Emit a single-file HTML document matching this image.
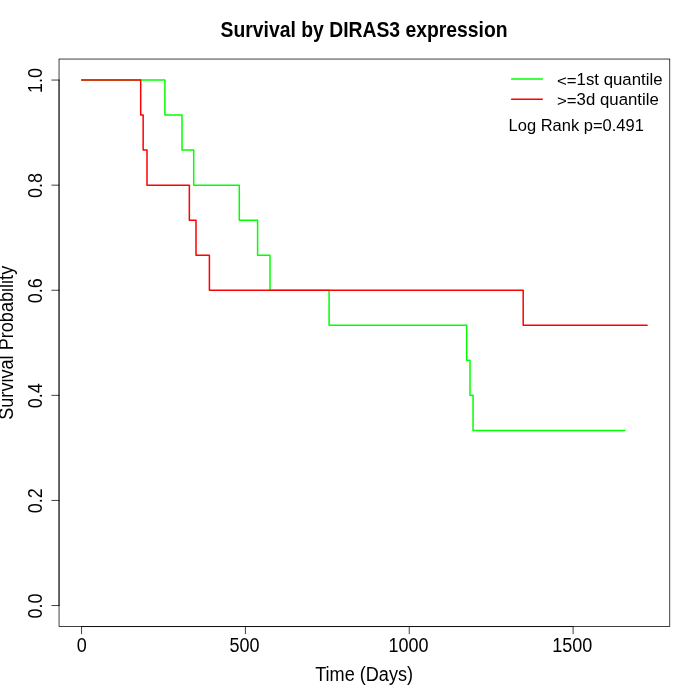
<!DOCTYPE html>
<html><head><meta charset="utf-8"><title>Survival by DIRAS3 expression</title>
<style>
html,body{margin:0;padding:0;background:#fff;}
body{width:700px;height:700px;overflow:hidden;}
svg{display:block;will-change:transform;}
svg text{font-family:"Liberation Sans",sans-serif;fill:#000;}
</style></head><body>
<svg width="700" height="700" viewBox="0 0 700 700">
<rect x="0" y="0" width="700" height="700" fill="#fff"/>
<rect x="59.04" y="59.04" width="610.72" height="567.52" fill="none" stroke="#000" stroke-width="0.75"/>
<path d="M81.55 626.56H573.10" stroke="#000" stroke-width="0.75" fill="none" stroke-linecap="round"/>
<path d="M81.55 626.56v7.2" stroke="#000" stroke-width="0.75" fill="none" stroke-linecap="round"/>
<text transform="translate(81.85 651.80) scale(1 1.115)" text-anchor="middle" font-size="18.00">0</text>
<path d="M245.40 626.56v7.2" stroke="#000" stroke-width="0.75" fill="none" stroke-linecap="round"/>
<text transform="translate(244.60 651.80) scale(1 1.115)" text-anchor="middle" font-size="18.00">500</text>
<path d="M409.25 626.56v7.2" stroke="#000" stroke-width="0.75" fill="none" stroke-linecap="round"/>
<text transform="translate(408.45 651.80) scale(1 1.115)" text-anchor="middle" font-size="18.00">1000</text>
<path d="M573.10 626.56v7.2" stroke="#000" stroke-width="0.75" fill="none" stroke-linecap="round"/>
<text transform="translate(572.30 651.80) scale(1 1.115)" text-anchor="middle" font-size="18.00">1500</text>
<path d="M59.04 605.54V80.06" stroke="#000" stroke-width="0.75" fill="none" stroke-linecap="round"/>
<path d="M59.04 605.54h-7.2" stroke="#000" stroke-width="0.75" fill="none" stroke-linecap="round"/>
<text transform="translate(41.50 605.94) rotate(-90) scale(1 1.115)" text-anchor="middle" font-size="18.00">0.0</text>
<path d="M59.04 500.44h-7.2" stroke="#000" stroke-width="0.75" fill="none" stroke-linecap="round"/>
<text transform="translate(41.50 500.84) rotate(-90) scale(1 1.115)" text-anchor="middle" font-size="18.00">0.2</text>
<path d="M59.04 395.35h-7.2" stroke="#000" stroke-width="0.75" fill="none" stroke-linecap="round"/>
<text transform="translate(41.50 395.75) rotate(-90) scale(1 1.115)" text-anchor="middle" font-size="18.00">0.4</text>
<path d="M59.04 290.25h-7.2" stroke="#000" stroke-width="0.75" fill="none" stroke-linecap="round"/>
<text transform="translate(41.50 290.65) rotate(-90) scale(1 1.115)" text-anchor="middle" font-size="18.00">0.6</text>
<path d="M59.04 185.16h-7.2" stroke="#000" stroke-width="0.75" fill="none" stroke-linecap="round"/>
<text transform="translate(41.50 185.56) rotate(-90) scale(1 1.115)" text-anchor="middle" font-size="18.00">0.8</text>
<path d="M59.04 80.06h-7.2" stroke="#000" stroke-width="0.75" fill="none" stroke-linecap="round"/>
<text transform="translate(41.50 80.46) rotate(-90) scale(1 1.115)" text-anchor="middle" font-size="18.00">1.0</text>
<text transform="translate(364.10 681.00) scale(1 1.090)" text-anchor="middle" font-size="18.12">Time (Days)</text>
<text transform="translate(13.20 342.80) rotate(-90) scale(1 1.090)" text-anchor="middle" font-size="18.12">Survival Probability</text>
<text transform="translate(364.10 36.60) scale(1 1.100)" text-anchor="middle" font-weight="bold" font-size="19.35">Survival by DIRAS3 expression</text>
<path d="M81.66 80.06H164.90V115.09H182.00V150.12H193.70V185.16H239.30V220.19H257.60V255.22H270.00V290.25H329.10V325.28H466.70V360.32H470.00V395.35H473.05V430.38H624.80" stroke="#00ff00" stroke-width="1.5" fill="none" stroke-linecap="round" stroke-linejoin="round"/>
<path d="M81.66 80.06H140.70V115.09H143.15V150.12H147.00V185.16H189.35V220.19H196.00V255.22H209.40V290.25H523.20V325.28H647.10" stroke="#ff0000" stroke-width="1.5" fill="none" stroke-linecap="round" stroke-linejoin="round"/>
<path d="M511.60 79.06H542.30" stroke="#00ff00" stroke-width="1.50" stroke-linecap="round"/>
<path d="M511.60 99.22H542.30" stroke="#ff0000" stroke-width="1.50" stroke-linecap="round"/>
<text transform="translate(557.00 86.42) scale(1 0.914)" font-size="16.80">&lt;=</text>
<text transform="translate(576.62 85.00) scale(1 0.980)" font-size="16.80">1st quantile</text>
<text transform="translate(557.00 105.80) scale(1 0.914)" font-size="16.80">&gt;=</text>
<text transform="translate(576.62 105.30) scale(1 0.980)" font-size="16.80">3d quantile</text>
<text transform="translate(508.60 130.50) scale(1 1.050)" font-size="16.50">Log Rank p=0.491</text>
</svg>
</body></html>
